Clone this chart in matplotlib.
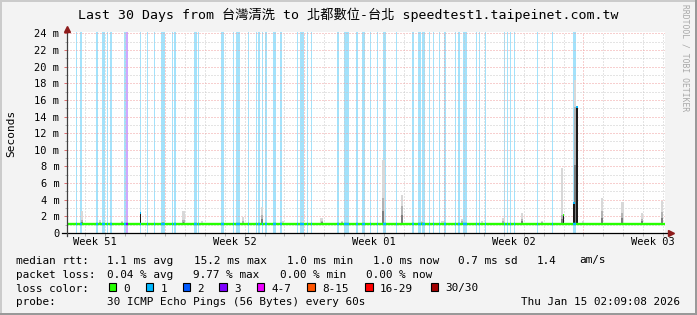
import numpy as np
import matplotlib
matplotlib.use('Agg')
import matplotlib.pyplot as plt
from matplotlib.patches import Rectangle
from matplotlib.lines import Line2D

plt.rcParams['font.family'] = ['DejaVu Sans Mono', 'Noto Sans CJK TC']

title = 'Last 30 Days from 台灣清洗 to 北都數位-台北 speedtest1.taipeinet.com.tw'

# x axis: days since start of the 30 day window
week_labels = ['Week 51', 'Week 52', 'Week 01', 'Week 02', 'Week 03']
week_label_days = [1.41, 8.41, 15.41, 22.41, 29.41]
week_start_days = [4.91, 11.91, 18.91, 25.91]

# median rtt (ms), one value every half day
median_ms = [1.10, 1.13, 1.10, 1.12, 1.09, 1.10, 1.12, 1.10, 1.11, 1.10,
             1.13, 1.10, 1.10, 1.09, 1.12, 1.10, 1.10, 1.12, 1.10, 1.10,
             1.11, 1.09, 1.12, 1.10, 1.10, 1.13, 1.10, 1.10, 1.11, 1.09,
             1.10, 1.12, 1.10, 1.11, 1.10, 1.09, 1.12, 1.10, 1.13, 1.10,
             1.10, 1.12, 1.10, 1.10, 1.12, 1.10, 1.11, 1.09, 1.10, 1.12,
             1.10, 1.10, 1.12, 1.10, 1.10, 1.12, 1.10, 1.13, 1.11, 1.12]

# periods with packet loss: start day, length (days), loss level
loss_start = [0.43, 0.65, 1.43, 1.74, 1.99, 2.16, 2.86, 2.96, 3.66, 4.01,
              4.37, 4.74, 5.25, 5.39, 6.37, 6.56, 7.73, 8.33, 8.48, 9.08,
              9.46, 9.58, 9.78, 9.93, 10.34, 10.69, 11.56, 11.69, 12.02, 12.24,
              13.57, 13.90, 14.52, 14.82, 15.20, 15.55, 15.87, 16.48, 17.33, 17.61,
              17.80, 18.16, 18.35, 18.64, 18.92, 19.47, 19.62, 19.89, 20.52, 20.67,
              20.97, 21.93, 22.05, 22.20, 22.43, 23.58, 24.33, 25.39]
loss_len = [0.075, 0.10, 0.15, 0.17, 0.05, 0.085, 0.085, 0.10, 0.05, 0.05,
            0.05, 0.18, 0.05, 0.10, 0.14, 0.07, 0.15, 0.07, 0.20, 0.075,
            0.05, 0.10, 0.05, 0.10, 0.15, 0.10, 0.05, 0.20, 0.05, 0.05,
            0.075, 0.25, 0.09, 0.115, 0.05, 0.05, 0.125, 0.065, 0.10, 0.125,
            0.15, 0.05, 0.05, 0.05, 0.09, 0.05, 0.10, 0.175, 0.05, 0.05,
            0.05, 0.05, 0.05, 0.05, 0.065, 0.05, 0.05, 0.15]
loss_level = [1] * 7 + [3] + [1] * 50

# smoke spikes: day, top of light smoke, top of dense smoke (ms)
smoke_day = [0.75, 1.66, 2.76, 4.82, 5.84, 6.77, 8.83, 9.78, 10.84, 11.84,
             12.78, 13.80, 14.85, 15.86, 16.81, 17.81, 18.82, 19.82, 20.82, 21.88,
             22.83, 23.83, 24.83, 25.49, 25.89, 26.84, 27.85, 28.85, 29.85]
smoke_top = [2.6, 1.6, 1.5, 1.5, 2.6, 1.4, 1.9, 3.1, 1.4, 1.4,
             1.8, 1.5, 1.3, 8.8, 4.6, 1.5, 1.4, 1.7, 1.4, 1.8,
             2.4, 1.5, 7.8, 18.4, 1.4, 4.2, 3.7, 2.4, 3.9]
smoke_core = [1.6, 1.3, 1.3, 1.3, 1.6, 1.25, 1.4, 2.2, 1.25, 1.25,
              1.4, 1.3, 1.2, 4.2, 3.2, 1.3, 1.25, 1.4, 1.25, 1.4,
              1.7, 1.3, 2.2, 15.2, 1.25, 2.6, 2.4, 1.7, 2.5]

# dense (black) columns: day, top (ms), width (days), loss level at top
dark_day = [3.66, 24.86, 25.40, 25.52]
dark_top = [2.4, 2.2, 3.6, 15.2]
dark_len = [0.07, 0.06, 0.07, 0.10]
dark_loss = [1, 0, 1, 1]

loss_colors = {0: '#26ff00', 1: '#00b8ff', 2: '#0059ff', 3: '#7e00ff',
               4: '#ee00ff', 5: '#ff5500', 6: '#ff0000', 7: '#a10000'}
loss_bg = {1: '#a3e2fb', 3: '#d0a8ff'}
legend_labels = ['0', '1', '2', '3', '4-7', '8-15', '16-29', '30/30']

W, H = 697, 315


def P(x, y):
    return x / W, 1 - y / H


fig = plt.figure(figsize=(W / 100, H / 100), dpi=100, facecolor='#f3f3f3')
ax = fig.add_axes([67 / W, (H - 233) / H, 598 / W, 201 / H])
ax.set_xlim(0, 30)
ax.set_ylim(0, 24.16)
ax.set_facecolor('white')

# loss background
for s, l, lev in zip(loss_start, loss_len, loss_level):
    ax.axvspan(s, s + l, color=loss_bg[lev], lw=0, zorder=0)

# grid
dots = (0, (1, 2))
for d in np.arange(0.91, 30, 1.0):
    major = any(abs(d - w) < 0.01 for w in week_start_days)
    ax.axvline(d, color='#f0a0a0' if major else '#cacaca', lw=0.72, ls=dots, zorder=1)
for v in range(1, 25):
    ax.axhline(v, color='#f0a0a0' if v % 2 == 0 else '#cacaca', lw=0.72, ls=dots, zorder=1)

# smoke
med = np.array(median_ms)
for d, top, core in zip(smoke_day, smoke_top, smoke_core):
    base = med[int(d / 0.5)]
    ax.bar(d, top - base, bottom=base, width=0.14, color='#d8d8d8', lw=0, zorder=2)
    ax.bar(d, core - base, bottom=base, width=0.11, color='#b2b2b2', lw=0, zorder=2)
    ax.bar(d, (core - base) * 0.5, bottom=base, width=0.08, color='#7e7e7e', lw=0, zorder=2)

for d, top, l in zip(dark_day, dark_top, dark_len):
    base = med[int(d / 0.5)]
    ax.bar(d, top - base, bottom=base, width=l, align='edge', color='#1a1a1a',
           lw=0, zorder=3)

# median line
mx = np.append(np.arange(len(median_ms)) * 0.5, 30)
my = np.append(med, med[-1])
ax.step(mx, my, where='post', color=loss_colors[0], lw=1.7, zorder=4)
for s, l, lev in zip(loss_start, loss_len, loss_level):
    m = med[int(s / 0.5)]
    ax.hlines(m, s, s + max(l, 0.05), color=loss_colors[lev], lw=1.7, zorder=5)
for d, top, l, lev in zip(dark_day, dark_top, dark_len, dark_loss):
    ax.hlines(top, d, d + l, color=loss_colors[lev], lw=1.4, zorder=5)

# axes, ticks
for sp in ax.spines.values():
    sp.set_visible(False)
ax.set_yticks(range(0, 25, 2), ['0'] + ['%d m' % v for v in range(2, 25, 2)])
ax.set_yticks(range(1, 25, 2), minor=True)
ax.tick_params(axis='y', which='major', length=2.2, width=0.72, color='#e07070',
               labelsize=7.5, pad=3.3)
ax.tick_params(axis='y', which='minor', length=1.5, width=0.72, color='#b0b0b0')
ax.set_xticks(week_label_days, week_labels)
ax.set_xticks(np.arange(0.91, 30, 1.0), minor=True)
ax.tick_params(axis='x', which='major', length=0, labelsize=7.5, pad=3.2)
ax.tick_params(axis='x', which='minor', length=2.2, width=0.72, color='#b0b0b0')
for t, loc in zip(ax.xaxis.get_minor_ticks(), ax.xaxis.get_minorticklocs()):
    if any(abs(loc - w) < 0.01 for w in week_start_days):
        t.tick1line.set_color('#e07070')

ax.plot([-5 / 598, 1 + 3 / 598], [0, 0], transform=ax.transAxes, color='black',
        lw=0.9, clip_on=False, zorder=6)
ax.plot([0, 0], [-3 / 201, 1 + 1 / 201], transform=ax.transAxes, color='#404040',
        lw=0.9, clip_on=False, zorder=6)
ax.plot(1 + 6 / 598, 0, marker='>', ms=5, color='#8e1c1c', transform=ax.transAxes,
        clip_on=False, zorder=7)
ax.plot(0, 1 + 3 / 201, marker='^', ms=5, color='#8e1c1c', transform=ax.transAxes,
        clip_on=False, zorder=7)

# texts
fig.text(*P(348, 18.5), title, ha='center', va='baseline', fontsize=9.5)
fig.text(*P(11, 133), 'Seconds', rotation=90, ha='center', va='center', fontsize=8)
fig.text(*P(685, 58), 'RRDTOOL / TOBI OETIKER', rotation=270, ha='center',
         va='center', fontsize=5.8, color='#a8a8a8')

fs = 7.95
row1 = [(16, 'median rtt:'), (107, '1.1 ms avg'), (194, '15.2 ms max'),
        (287, '1.0 ms min'), (373, '1.0 ms now'), (458, '0.7 ms sd'),
        (537, '1.4'), (579, 'am/s')]
row2 = [(16, 'packet loss:'), (107, '0.04 % avg'), (193.5, '9.77 % max'),
        (280, '0.00 % min'), (366, '0.00 % now')]
for x, s in row1:
    fig.text(*P(x, 263.5), s, ha='left', va='baseline', fontsize=fs)
for x, s in row2:
    fig.text(*P(x, 277.5), s, ha='left', va='baseline', fontsize=fs)
fig.text(*P(16, 291.5), 'loss color:', ha='left', va='baseline', fontsize=fs)
sq_x = [108.7, 145.7, 182.7, 219.3, 256.7, 307.3, 365, 430.7]
for i, (x, lab) in enumerate(zip(sq_x, legend_labels)):
    fig.add_artist(Rectangle(P(x, 291), 7.5 / W, 8 / H, transform=fig.transFigure,
                             facecolor=loss_colors[i], edgecolor='black', lw=0.8))
    fig.text(*P(x + 14.5, 291.5), lab, ha='left', va='baseline', fontsize=fs)
fig.text(*P(16, 305), 'probe:', ha='left', va='baseline', fontsize=fs)
fig.text(*P(107, 305), '30 ICMP Echo Pings (56 Bytes) every 60s', ha='left',
         va='baseline', fontsize=fs)
fig.text(*P(680, 305), 'Thu Jan 15 02:09:08 2026', ha='right', va='baseline',
         fontsize=fs)

# 3d frame
for (x0, y0, x1, y1, c) in [(0, 1, W, 1, '#cbcbcb'), (1, 0, 1, H, '#cbcbcb'),
                            (0, H - 1, W, H - 1, '#999999'), (W - 1, 0, W - 1, H, '#999999')]:
    fig.add_artist(Line2D([x0 / W, x1 / W], [1 - y0 / H, 1 - y1 / H],
                          transform=fig.transFigure, color=c, lw=1.44))

fig.savefig('out.png', dpi=100, facecolor=fig.get_facecolor())
